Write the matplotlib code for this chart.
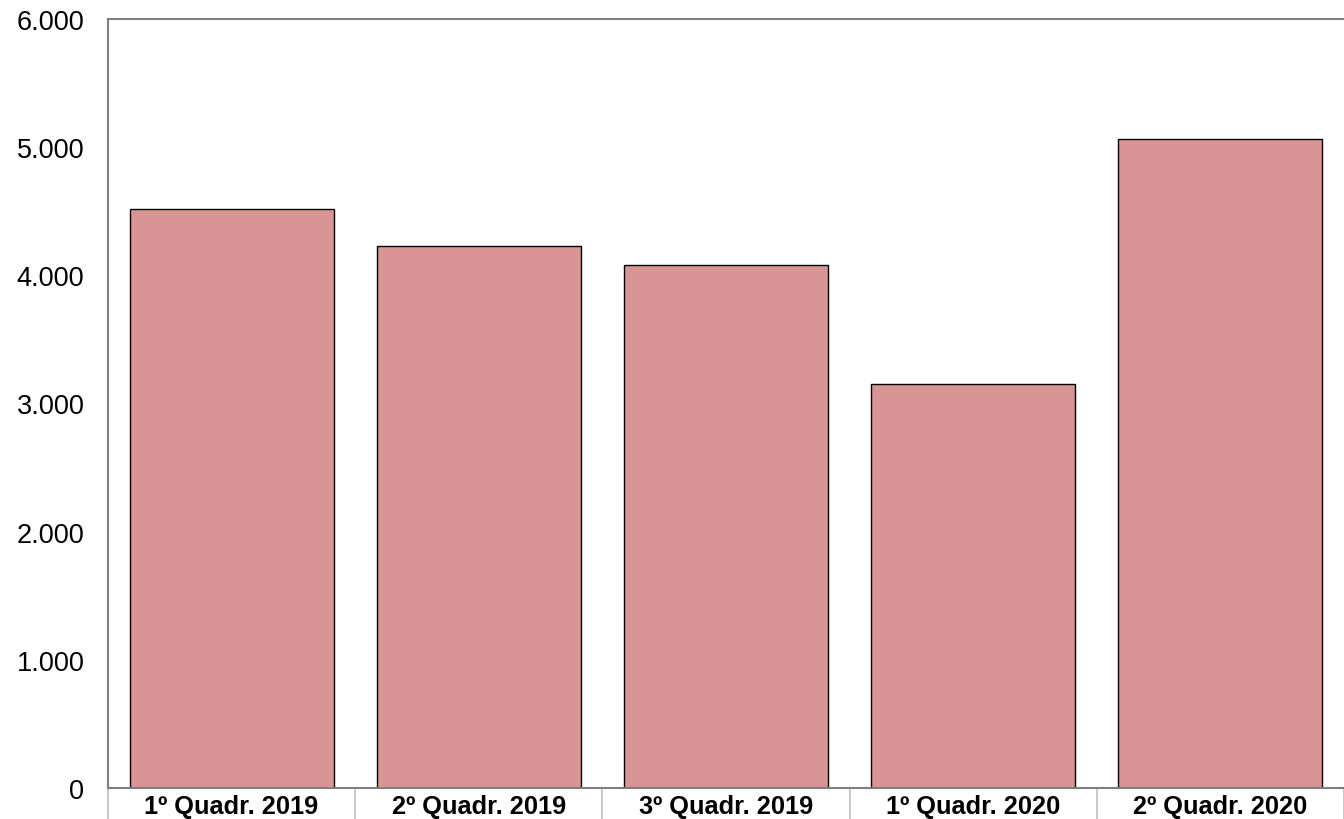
import matplotlib.pyplot as plt
import numpy as np

# quadrimestres e valores
categorias = ['1º Quadr. 2019', '2º Quadr. 2019', '3º Quadr. 2019', '1º Quadr. 2020', '2º Quadr. 2020']
valores = [4520, 4230, 4080, 3155, 5060]
yticks = [0, 1000, 2000, 3000, 4000, 5000, 6000]
ytick_labels = ['0', '1.000', '2.000', '3.000', '4.000', '5.000', '6.000']

plt.rcParams['font.family'] = ['Liberation Sans', 'DejaVu Sans']

fig = plt.figure(figsize=(13.44, 8.2), dpi=100)
ax = fig.add_axes([108/1344, 31/820, 1 - 108/1344, (789-20)/820])

x = np.arange(len(categorias))
ax.bar(x, valores, width=0.825, color='#D99594', edgecolor='black', linewidth=1.0)

ax.set_xlim(-0.5, len(categorias) - 0.5)
ax.set_ylim(0, 6000)
ax.set_yticks(yticks)
ax.set_yticklabels(ytick_labels, fontsize=19.5)
ax.tick_params(axis='y', length=0, pad=17)

ax.set_xticks(x)
ax.set_xticklabels(categorias, fontsize=18.3, fontweight='bold')
ax.set_xticks(np.arange(-0.5, len(categorias), 1), minor=True)
ax.tick_params(axis='x', which='major', length=0, pad=4)
ax.tick_params(axis='x', which='minor', length=23, width=1.2, color='#BFBFBF')

for s in ['left', 'top', 'bottom']:
    ax.spines[s].set_color('#7F7F7F')
    ax.spines[s].set_linewidth(1.5)
ax.spines['right'].set_visible(False)

fig.savefig('out.png', dpi=100)
